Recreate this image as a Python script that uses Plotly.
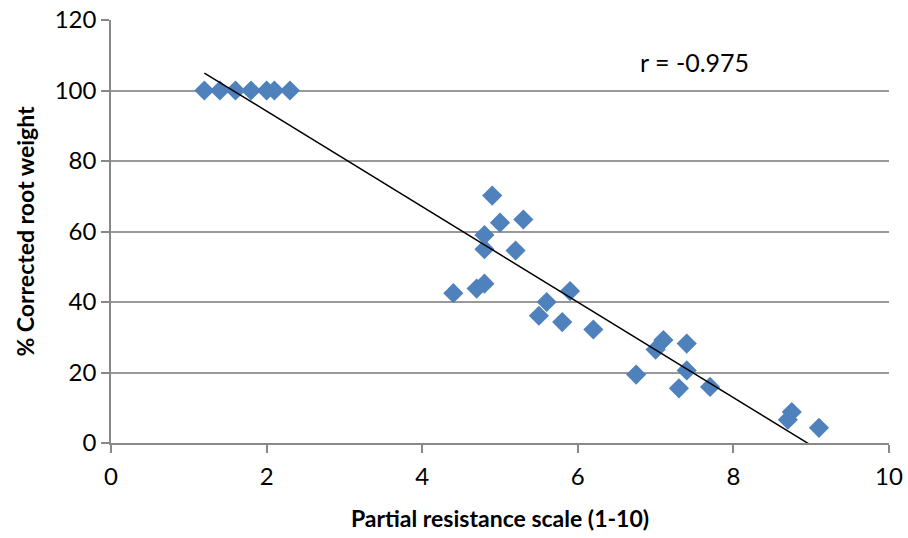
import numpy as np
import plotly.graph_objects as go

resistance = [1.2, 1.4, 1.6, 1.8, 2.0, 2.1, 2.3,
              4.9, 5.0, 5.3, 4.8, 4.8, 5.2, 4.4, 4.7, 4.8, 5.9, 5.6, 5.5, 5.8, 6.2,
              7.1, 7.0, 7.4, 6.75, 7.4, 7.3, 7.7, 8.75, 8.7, 9.1]
root_weight = [100, 100, 100, 100, 100, 100, 100,
               70.2, 62.5, 63.4, 59, 55, 54.6, 42.5, 43.8, 45.2, 43.1, 40, 36.1, 34.3, 32.2,
               29.2, 26.5, 28.2, 19.4, 20.6, 15.5, 15.9, 8.8, 6.6, 4.3]
r_label = "r = -0.975"
x_ticks = [0, 2, 4, 6, 8, 10]
y_ticks = [0, 20, 40, 60, 80, 100, 120]

x = np.array(resistance)
y = np.array(root_weight)
slope, intercept = np.polyfit(x, y, 1)
fit_x = np.array([x.min(), x.max()])
fit_y = slope * fit_x + intercept

FONT = "Lato"
fig = go.Figure()
fig.add_trace(go.Scatter(
    x=resistance, y=root_weight, mode="markers",
    marker=dict(symbol="diamond", size=15.5, color="#4F81BD",
                line=dict(width=0)),
    showlegend=False, cliponaxis=False))
fig.add_trace(go.Scatter(
    x=fit_x, y=fit_y, mode="lines",
    line=dict(color="black", width=1.5), showlegend=False))

fig.add_annotation(x=6.77, y=108, xref="x", yref="y", text=r_label,
                   showarrow=False, xanchor="left", yanchor="middle",
                   font=dict(size=25, color="black", family=FONT))

tick_font = dict(size=24, color="black", family=FONT)
title_font = dict(size=23, color="black", family=FONT)
fig.update_layout(
    width=908, height=538,
    margin=dict(l=111, r=19, t=20, b=95),
    plot_bgcolor="white", paper_bgcolor="white",
    xaxis=dict(range=[0, 10], tickvals=x_ticks, showgrid=False,
               showline=True, linecolor="#888888", linewidth=1.5,
               ticks="outside", ticklen=8, tickcolor="#888888", tickwidth=1.5,
               tickfont=tick_font, zeroline=False, automargin=False,
               ticklabelstandoff=3,
               title=dict(text="<b>Partial resistance scale (1-10)</b>",
                          font=title_font, standoff=22)),
    yaxis=dict(range=[0, 120], tickvals=y_ticks, showgrid=True,
               gridcolor="#999999", gridwidth=1.5,
               showline=True, linecolor="#888888", linewidth=1.5,
               ticks="outside", ticklen=8, tickcolor="#888888", tickwidth=1.5,
               tickfont=tick_font, zeroline=False, automargin=False,
               title=dict(text="<b>% Corrected root weight</b>",
                          font=title_font, standoff=14)),
)
fig.write_html("out.html")
